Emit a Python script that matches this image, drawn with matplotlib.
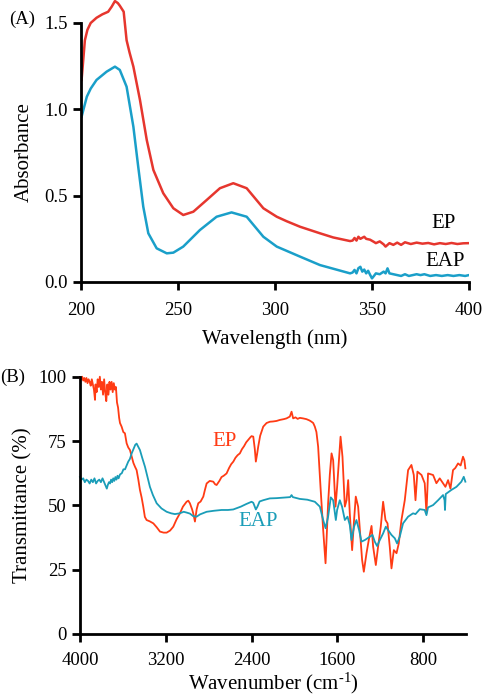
import matplotlib
matplotlib.use("Agg")
import matplotlib.pyplot as plt

plt.rcParams['font.family'] = ['Liberation Serif', 'DejaVu Serif']
plt.rcParams['mathtext.fontset'] = 'custom'
plt.rcParams['mathtext.rm'] = 'Liberation Serif'
plt.rcParams['mathtext.it'] = 'Liberation Serif:italic'

# ---------------- UV-Vis data (A) ----------------
uv_ep_x = [200.3, 202, 203.3, 205, 208, 211, 214, 215.8, 217.5, 219, 220, 222, 223.5, 225, 227,
           230.4, 233.9, 237.3, 242.4, 247.6, 252.7, 257.9, 264.8, 271.6, 278.5, 285.4, 294,
           300.9, 306, 312.9, 323.2, 330, 338.7,
           340, 341, 342, 343, 344, 346, 347, 349, 351, 352, 354, 356, 357, 359, 361, 363, 365,
           367, 370, 373, 376, 379, 382, 385, 388, 391, 394, 397, 400]
uv_ep_y = [1.17, 1.40, 1.46, 1.50, 1.53, 1.55, 1.565, 1.594, 1.627, 1.615, 1.60, 1.565, 1.40, 1.33, 1.247,
           1.054, 0.822, 0.649, 0.514, 0.427, 0.388, 0.407, 0.475, 0.543, 0.572, 0.543, 0.427,
           0.378, 0.352, 0.320, 0.282, 0.258, 0.237,
           0.24, 0.255, 0.24, 0.262, 0.25, 0.262, 0.25, 0.245, 0.232, 0.225, 0.235, 0.218, 0.205,
           0.225, 0.215, 0.228, 0.215, 0.23, 0.22, 0.228, 0.222, 0.226, 0.218, 0.225, 0.22, 0.226,
           0.22, 0.224, 0.225]

uv_eap_x = [200.3, 203, 205, 208, 213.2, 217.5, 220, 223.5, 227, 229.5, 232.1, 234.7, 239, 244.2,
            247.6, 252.7, 261.3, 269.9, 277.6, 285.4, 294, 300.9, 312.9, 323.2, 338.7,
            340, 341, 342, 343, 344, 345, 346, 347, 348, 349, 350, 351, 352, 354, 356, 357, 358,
            359, 361, 363, 365, 367, 369, 371, 373, 375, 377, 380, 383, 386, 389, 392, 395, 398, 400]
uv_eap_y = [0.957, 1.073, 1.12, 1.17, 1.218, 1.247, 1.228, 1.131, 0.899, 0.667, 0.436, 0.282, 0.195, 0.166,
            0.170, 0.205, 0.301, 0.378, 0.403, 0.378, 0.262, 0.205, 0.147, 0.098, 0.050,
            0.055, 0.07, 0.05, 0.08, 0.088, 0.06, 0.072, 0.05, 0.065, 0.042, 0.021, 0.035, 0.05,
            0.045, 0.06, 0.05, 0.079, 0.05, 0.045, 0.04, 0.035, 0.045, 0.035, 0.04, 0.045, 0.04,
            0.045, 0.035, 0.04, 0.035, 0.04, 0.035, 0.04, 0.035, 0.04]

# ---------------- FTIR data (B) ----------------
ir_ep_x = [4000, 3990, 3980, 3970, 3960, 3950, 3940, 3930, 3920, 3910, 3900, 3890, 3880, 3870, 3860,
           3855, 3845, 3835, 3825, 3815, 3805, 3795, 3785, 3775, 3765, 3755, 3745, 3735, 3725, 3715,
           3705, 3695, 3685, 3675, 3665, 3655, 3645, 3635, 3627, 3612, 3596, 3581, 3565, 3550, 3534,
           3518, 3502, 3487, 3472, 3456, 3441, 3425, 3410, 3395, 3379, 3350, 3316, 3285, 3254, 3220,
           3192, 3160, 3130, 3100, 3068, 3040, 3006, 2990, 2975, 2955, 2944, 2928, 2912, 2897, 2875,
           2850, 2835, 2819, 2790, 2757, 2740, 2726, 2700, 2680, 2660, 2633, 2610, 2590, 2570, 2550,
           2530, 2509, 2490, 2470, 2450, 2430, 2410, 2400, 2384, 2370, 2360, 2348, 2338, 2320, 2291,
           2260, 2229, 2200, 2167, 2136, 2100, 2074, 2043, 2027, 2012, 1990, 1970, 1950, 1920, 1888,
           1860, 1841, 1825, 1810, 1795, 1779, 1757, 1732, 1710, 1686, 1670, 1654, 1639, 1617, 1602,
           1570, 1552, 1530, 1514, 1499, 1484, 1462, 1444, 1428, 1406, 1390, 1369, 1353, 1328, 1307,
           1281, 1266, 1241, 1220, 1195, 1173, 1151, 1132, 1111, 1095, 1073, 1048, 1027, 1002, 971,
           940, 909, 887, 871, 853, 815, 785, 769, 754, 707, 676, 645, 614, 592, 567, 545, 521,
           500, 474, 450, 428, 415, 406]
ir_ep_y = [99.5, 99, 100, 98.5, 99.5, 98, 99.5, 97.5, 99, 98, 96.5, 99, 97, 95, 91,
           97, 94, 99, 96, 100, 95, 98, 93, 99, 94, 90.5, 97, 93, 98, 95,
           98, 94, 97.5, 95, 96, 90, 88, 84, 82, 80.6, 78.5, 78, 74.1, 72.5, 71.5,
           69, 66.5, 65, 63.7, 60, 56, 53, 49.5, 45.5, 44.3, 43.8, 43, 41.5, 39.8, 39.4,
           39.4, 40.2, 41.7, 44.5, 46.9, 49.5, 51.4, 51.8, 50.8, 48.5, 46.9, 43.7, 48.5, 50.8, 51.5,
           53.4, 56, 58.5, 59.5, 59.2, 58.2, 57.9, 59.5, 61, 61.5, 62.4, 64.5, 66, 67, 68.5,
           69.5, 70.2, 71.8, 73, 74.5, 75.5, 76.5, 76.9, 76.7, 72, 67, 70, 72.8, 77, 80.6,
           82, 82.5, 82.6, 82.8, 83.2, 83.5, 83.8, 84.5, 86.4, 83.8, 84.2, 83.6, 84.0, 83.8, 83.5,
           83.0, 82.5, 82.0, 80.6, 78.5, 72.8, 57.2, 40.4, 27.5, 50.8, 62, 70.2, 67.6, 49.5, 57.2,
           76.7, 68.9, 49.5, 52, 59.8, 46.9, 32.6, 44.3, 53.4, 49.5, 40.4, 28.8, 24.2, 31.4, 36.5,
           42, 33.9, 26.8, 33.9, 41.7, 51.4, 44.3, 43, 33.9, 25.5, 32.6, 31.4, 35.2, 44.3, 52,
           63.7, 65.7, 61.8, 52, 63.1, 61.8, 58.6, 46.9, 62.4, 61.8, 58.6, 60.5, 58.6, 57.2, 59.8, 56.5, 63.7,
           64.5, 66.3, 65.5, 68.9, 67.5, 64.4]

ir_eap_x = [4000, 3985, 3970, 3955, 3940, 3925, 3910, 3895, 3880, 3865, 3850, 3835, 3820, 3805, 3790,
            3775, 3760, 3750, 3740, 3730, 3720, 3710, 3700, 3690, 3680, 3670, 3660, 3650, 3640, 3627,
            3610, 3595, 3580, 3565, 3550, 3535, 3518, 3500, 3485, 3472, 3460, 3441, 3420, 3394, 3370,
            3348, 3320, 3285, 3240, 3192, 3150, 3115, 3070, 3033, 3006, 2975, 2944, 2913, 2880, 2850,
            2819, 2750, 2680, 2620, 2571, 2500, 2450, 2400, 2384, 2370, 2360, 2345, 2325, 2291, 2230,
            2167, 2100, 2040, 2027, 2015, 1950, 1880, 1810, 1763, 1732, 1710, 1686, 1661, 1639, 1614,
            1602, 1577, 1556, 1530, 1505, 1484, 1468, 1444, 1422, 1397, 1375, 1344, 1297, 1272, 1251,
            1229, 1204, 1173, 1148, 1127, 1095, 1064, 1043, 1018, 987, 940, 894, 871, 831, 785, 769,
            754, 707, 660, 614, 600, 596, 589, 536, 489, 443, 421, 406]
ir_eap_y = [61, 60, 60.5, 59, 60, 59.5, 58.5, 60, 59, 60.5, 58.5, 59.5, 60, 59, 60.5,
            59, 57.5, 56.5, 58, 59, 58.5, 60, 59, 60.5, 59.5, 61, 60, 61.5, 60.5, 62,
            62.5, 64, 64, 65.5, 67, 68, 70.2, 72, 73.5, 74, 73, 71.5, 68.5, 65, 61,
            57.2, 54, 50.8, 48.8, 47.5, 46.9, 46.6, 46.9, 47.5, 47.2, 46.8, 45.8, 45.6, 46.5, 47,
            47.5, 47.9, 48.2, 48.2, 48.4, 49.5, 50.5, 51.4, 51, 49.5, 48.4, 49.5, 51.5, 52, 52.7,
            52.8, 53, 53.2, 54, 53.2, 52.5, 52.2, 51.4, 49.5, 44.3, 41.1, 45.6, 53.1, 52, 44.3,
            48.2, 52, 49.5, 44.3, 45.6, 42.4, 36.5, 41.7, 44.3, 40.4, 35.9, 36.5, 37.8, 38.5, 35.9,
            34.2, 36.5, 39.1, 41.7, 40.4, 38.5, 37.2, 35.2, 37.8, 43, 45.6, 46.9, 46.6, 48.5, 48.2, 46.2,
            49.2, 50.1, 52, 54, 52, 48.2, 54.4, 56, 57.2, 59.2, 61.1, 59.2]

uv_xticks = [200, 250, 300, 350, 400]
uv_yticks = [0.0, 0.5, 1.0, 1.5]
ir_xticks = [4000, 3200, 2400, 1600, 800]
ir_yticks = [0, 25, 50, 75, 100]

W, H = 484, 695
fig = plt.figure(figsize=(W / 100, H / 100), dpi=100)

def style(ax, xpad):
    for s in ['top', 'right']:
        ax.spines[s].set_visible(False)
    for s in ['left', 'bottom']:
        ax.spines[s].set_linewidth(2.0)
    ax.tick_params(direction='out', length=6, width=2.0, labelsize=13.5, color='black')
    ax.tick_params(axis='y', pad=3.5)
    ax.tick_params(axis='x', pad=xpad)

# Panel A
axA = fig.add_axes([81 / W, 1 - 282 / H, (469 - 81) / W, 282 / H])
axA.plot(uv_ep_x, uv_ep_y, color='#e6362e', lw=1.8)
axA.plot(uv_eap_x, uv_eap_y, color='#1a9fc9', lw=1.8)
axA.set_xlim(200, 400)
axA.set_ylim(0, 1.633)
style(axA, 8.5)
axA.spines['left'].set_bounds(0, 1.5)
axA.set_xticks(uv_xticks)
axA.set_yticks(uv_yticks)
axA.set_yticklabels(['0.0', '0.5', '1.0', '1.5'])
axA.set_xlabel('Wavelength (nm)', fontsize=15, labelpad=7)
axA.set_ylabel('Absorbance', fontsize=15)
axA.yaxis.set_label_coords(-0.121, (282 - 152) / 282)
fig.text(444 / W, 1 - 223 / H, 'EP', fontsize=15, ha='center', va='center')
fig.text(445 / W, 1 - 261 / H, 'EAP', fontsize=15, ha='center', va='center')
fig.text(22 / W, 1 - 19 / H, '(A)', fontsize=13.5, ha='center', va='center')

# Panel B
axB = fig.add_axes([80 / W, 1 - 634 / H, (466 - 80) / W, (634 - 376.7) / H])
axB.plot(ir_ep_x, ir_ep_y, color='#ff3b14', lw=1.3, clip_on=False)
axB.plot(ir_eap_x, ir_eap_y, color='#1a9db8', lw=1.3, clip_on=False)
axB.set_xlim(4000, 400)
axB.set_ylim(0, 100)
style(axB, 7)
axB.set_xticks(ir_xticks)
axB.set_yticks(ir_yticks)
axB.set_xlabel(r'Wavenumber (cm$^{\text{-1}}$)', fontsize=15, labelpad=1)
axB.set_ylabel('Transmittance (%)', fontsize=15)
axB.yaxis.set_label_coords(-0.122, 0.5)
fig.text(225 / W, 1 - 441 / H, 'EP', fontsize=15, ha='center', va='center', color='#ff3b14')
fig.text(258 / W, 1 - 522 / H, 'EAP', fontsize=15, ha='center', va='center', color='#1a9db8')
fig.text(13 / W, 1 - 377 / H, '(B)', fontsize=13.5, ha='center', va='center')

fig.savefig('out.png', dpi=100)
